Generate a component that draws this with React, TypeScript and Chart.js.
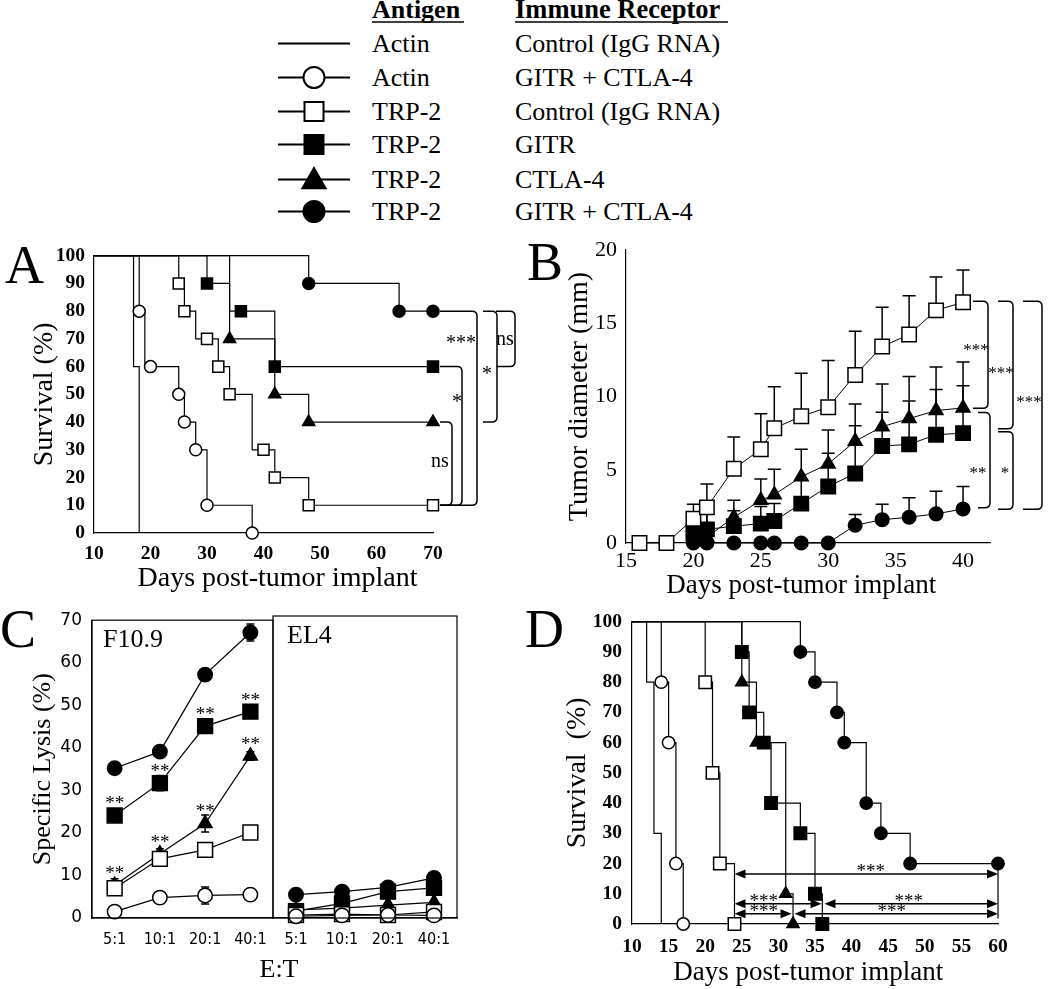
import React, { useEffect, useRef } from "react";
import { Chart, registerables } from "chart.js";

Chart.register(...registerables);

const SERIF = "'Liberation Serif', 'Times New Roman', serif";
const SANS = "'DejaVu Sans', sans-serif";
const SANS_C = "'DejaVu Sans Condensed', 'DejaVu Sans', sans-serif";
Chart.defaults.font.family = SERIF;

// ---------------- Legend ----------------
const legendAntigen = ["Actin", "Actin", "TRP-2", "TRP-2", "TRP-2", "TRP-2"];
const legendReceptor = [
  "Control (IgG RNA)",
  "GITR + CTLA-4",
  "Control (IgG RNA)",
  "GITR",
  "CTLA-4",
  "GITR + CTLA-4",
];

// group index: 0 Actin/Control, 1 Actin/GITR+CTLA-4, 2 TRP-2/Control,
// 3 TRP-2/GITR, 4 TRP-2/CTLA-4, 5 TRP-2/GITR+CTLA-4

// ---------------- Panel A (survival) ----------------
const aXTicks = [10, 20, 30, 40, 50, 60, 70];
const aYTicks = [0, 10, 20, 30, 40, 50, 60, 70, 80, 90, 100];
const aStepX = [
  [10, 17, 18],
  [10, 18, 19, 25, 26, 28, 30, 38],
  [10, 25, 26, 28, 32, 34, 38, 42, 48, 70],
  [10, 30, 34, 42, 70],
  [10, 34, 42, 48, 70],
  [10, 48, 64, 70],
];
const aStepY = [
  [100, 60, 0],
  [100, 80, 60, 50, 40, 30, 10, 0],
  [100, 90, 80, 70, 60, 50, 30, 20, 10, 10],
  [100, 90, 80, 60, 60],
  [100, 70, 50, 40, 40],
  [100, 90, 80, 80],
];
const aMarkX = [
  [],
  [18, 20, 25, 26, 28, 30, 38],
  [25, 26, 30, 32, 34, 40, 42, 48, 70],
  [30, 36, 42, 70],
  [34, 42, 48, 70],
  [48, 64, 70],
];
const aMarkY = [
  [],
  [80, 60, 50, 40, 30, 10, 0],
  [90, 80, 70, 60, 50, 30, 20, 10, 10],
  [90, 80, 60, 60],
  [70, 50, 40, 40],
  [90, 80, 80],
];

// ---------------- Panel B (tumor diameter) ----------------
const bXTicks = [15, 20, 25, 30, 35, 40];
const bYTicks = [0, 5, 10, 15, 20];
const bDaysCtrl = [16, 18, 20, 21, 23, 25, 26, 28, 30, 32, 34, 36, 38, 40];
const bDays = [20, 21, 23, 25, 26, 28, 30, 32, 34, 36, 38, 40];
const bCtrl = [0, 0, 1.65, 2.43, 5.07, 6.4, 7.83, 8.65, 9.27, 11.47, 13.41, 14.23, 15.88, 16.43];
const bCtrlErr = [0, 0, 1.0, 1.6, 2.17, 2.42, 2.83, 2.93, 3.19, 2.98, 2.69, 2.65, 2.28, 2.21];
const bCtla = [0.3, 0.4, 1.76, 2.91, 3.3, 4.52, 5.4, 6.95, 7.94, 8.49, 9.04, 9.22];
const bCtlaErr = [1.8, 2.2, 1.15, 1.46, 1.73, 1.88, 2.32, 2.54, 2.91, 2.87, 2.98, 3.13];
const bGitr = [0.66, 0.93, 1.15, 1.32, 1.5, 2.69, 3.86, 4.74, 6.62, 6.73, 7.39, 7.5];
const bGitrErr = [1.14, 1.27, 1.05, 1.18, 1.2, 1.61, 2.27, 3.26, 2.31, 2.97, 3.09, 3.24];
const bBoth = [0, 0, 0, 0, 0, 0, 0, 1.21, 1.59, 1.76, 1.99, 2.32];
const bBothErr = [0, 0, 0, 0, 0, 0, 0, 0.73, 1.06, 1.33, 1.54, 1.54];

// ---------------- Panel C (specific lysis) ----------------
const cLabels = ["5:1", "10:1", "20:1", "40:1"];
const cYTicks = [0, 10, 20, 30, 40, 50, 60, 70];
const cF10ActinBoth = [1.5, 4.8, 5.3, 5.5];
const cF10ActinBothErr = [0.3, 0.3, 2.0, 0.3];
const cF10Ctrl = [7.0, 13.9, 16.0, 20.1];
const cF10CtrlErr = [0.5, 0.5, 0.5, 0.5];
const cF10Gitr = [24.1, 31.7, 45.1, 48.5];
const cF10GitrErr = [0.8, 1.8, 0.8, 0.8];
const cF10Ctla = [7.7, 15.1, 22.2, 38.1];
const cF10CtlaErr = [1.5, 1.2, 2.0, 1.0];
const cF10Both = [35.2, 39.1, 57.2, 67.1];
const cF10BothErr = [0.8, 0.8, 0.8, 2.0];
const cEL4ActinBoth = [0.4, 0.6, 0.7, 0.6];
const cEL4Ctrl = [0.7, 0.9, 0.7, 1.4];
const cEL4Gitr = [1.6, 3.4, 6.1, 7.0];
const cEL4Ctla = [1.9, 2.3, 3.0, 3.6];
const cEL4Both = [5.4, 6.1, 7.1, 9.3];

// ---------------- Panel D (survival) ----------------
const dXTicks = [10, 15, 20, 25, 30, 35, 40, 45, 50, 55, 60];
const dYTicks = [0, 10, 20, 30, 40, 50, 60, 70, 80, 90, 100];
const dStepX = [
  [10, 12, 13, 14],
  [10, 14, 15, 16, 17],
  [10, 20, 21, 22, 24],
  [10, 25, 26, 28, 29, 33, 35, 36],
  [10, 25, 27, 31, 32],
  [10, 33, 35, 38, 39, 42, 44, 48, 60],
];
const dStepY = [
  [100, 80, 30, 0],
  [100, 80, 60, 20, 0],
  [100, 80, 50, 20, 0],
  [100, 90, 70, 60, 40, 30, 10, 0],
  [100, 80, 60, 10, 0],
  [100, 90, 80, 70, 60, 40, 30, 20, 20],
];
const dMarkX = [
  [],
  [14, 15, 16, 17],
  [20, 21, 22, 24],
  [25, 26, 28, 29, 33, 35, 36],
  [25, 27, 31, 32],
  [33, 35, 38, 39, 42, 44, 48, 60],
];
const dMarkY = [
  [],
  [80, 60, 20, 0],
  [80, 50, 20, 0],
  [90, 70, 60, 40, 30, 10, 0],
  [80, 60, 10, 0],
  [90, 80, 70, 60, 40, 30, 20, 20],
];

// ---------------- styles ----------------
const GROUP_MARK: any[] = [
  null,
  { shape: "circle", filled: false },
  { shape: "rect", filled: false },
  { shape: "rect", filled: true },
  { shape: "triangle", filled: true },
  { shape: "circle", filled: true },
];

function pointOpts(g: number, r: any) {
  const m = GROUP_MARK[g];
  return {
    pointStyle: m.shape,
    pointRadius: r[m.shape],
    pointHoverRadius: r[m.shape],
    pointBackgroundColor: m.filled ? "#000" : "#fff",
    pointBorderColor: "#000",
    pointBorderWidth: 1.5,
  };
}

function survivalDatasets(stepX: number[][], stepY: number[][], markX: number[][], markY: number[][], r: any) {
  const out: any[] = [];
  stepX.forEach((xs, g) => {
    out.push({
      data: xs.map((x, i) => ({ x, y: stepY[g][i] })),
      stepped: "before",
      borderColor: "#000",
      borderWidth: 1.2,
      pointRadius: 0,
      pointHoverRadius: 0,
      fill: false,
      clip: false,
      order: 2,
    });
    if (GROUP_MARK[g] && markX[g].length) {
      out.push({
        data: markX[g].map((x, i) => ({ x, y: markY[g][i] })),
        showLine: false,
        clip: false,
        order: 1,
        ...pointOpts(g, r),
      });
    }
  });
  return out;
}

function axis(o: any) {
  const s: any = {
    type: o.type || "linear",
    display: o.display === undefined ? true : o.display,
    offset: o.type === "category",
    grid: { display: false, drawTicks: false },
    border: { display: true, color: "#000", width: 1.2 },
    ticks: {
      font: o.font,
      color: "#000",
      padding: o.pad,
      autoSkip: false,
      maxRotation: 0,
      minRotation: 0,
      includeBounds: false,
    },
    afterFit: (sc: any) => {
      if (o.horizontal) sc.height = o.size;
      else sc.width = o.size;
    },
    title: o.title
      ? { display: true, text: o.title, font: o.titleFont, color: "#000", padding: o.titlePad }
      : { display: false },
  };
  if (o.min !== undefined) s.min = o.min;
  if (o.max !== undefined) s.max = o.max;
  if (o.tickValues) {
    s.afterBuildTicks = (sc: any) => {
      sc.ticks = o.tickValues.map((v: number) => ({ value: v }));
    };
  }
  return s;
}

function baseOptions(padding: any, scales: any) {
  return {
    animation: false,
    responsive: false,
    devicePixelRatio: 1,
    events: [],
    layout: { padding },
    plugins: { legend: { display: false }, tooltip: { enabled: false }, title: { display: false } },
    scales,
  };
}

// ---------------- drawing helpers ----------------
function drawLetter(ctx: any, t: string, x: number, y: number) {
  ctx.save();
  ctx.fillStyle = "#000";
  ctx.font = `54px ${SERIF}`;
  ctx.textAlign = "left";
  ctx.textBaseline = "alphabetic";
  ctx.fillText(t, x, y);
  ctx.restore();
}

function drawLabel(ctx: any, t: string, x: number, yc: number, size: number, family = SERIF) {
  ctx.save();
  ctx.fillStyle = "#000";
  ctx.font = `${size}px ${family}`;
  ctx.textAlign = "center";
  ctx.textBaseline = "alphabetic";
  const k = t.indexOf("*") >= 0 ? 0.47 : 0.23;
  ctx.fillText(t, x, yc + k * size);
  ctx.restore();
}

function drawBracket(ctx: any, x0: number, xv: number, yTop: number, yBot: number) {
  const r = 5;
  ctx.save();
  ctx.strokeStyle = "#000";
  ctx.lineWidth = 1.5;
  ctx.beginPath();
  ctx.moveTo(x0, yTop);
  ctx.lineTo(xv - r, yTop);
  ctx.quadraticCurveTo(xv, yTop, xv, yTop + r);
  ctx.lineTo(xv, yBot - r);
  ctx.quadraticCurveTo(xv, yBot, xv - r, yBot);
  ctx.lineTo(x0, yBot);
  ctx.stroke();
  ctx.restore();
}

function drawDoubleArrow(ctx: any, x1: number, x2: number, y: number) {
  const hl = 11;
  const hw = 4.5;
  ctx.save();
  ctx.strokeStyle = "#000";
  ctx.fillStyle = "#000";
  ctx.lineWidth = 1.5;
  ctx.beginPath();
  ctx.moveTo(x1 + 4, y);
  ctx.lineTo(x2 - 4, y);
  ctx.stroke();
  ctx.beginPath();
  ctx.moveTo(x1, y);
  ctx.lineTo(x1 + hl, y - hw);
  ctx.lineTo(x1 + hl, y + hw);
  ctx.closePath();
  ctx.fill();
  ctx.beginPath();
  ctx.moveTo(x2, y);
  ctx.lineTo(x2 - hl, y - hw);
  ctx.lineTo(x2 - hl, y + hw);
  ctx.closePath();
  ctx.fill();
  ctx.restore();
}

const errorBarPlugin = {
  id: "errorBars",
  beforeDatasetsDraw(chart: any) {
    const { ctx } = chart;
    const ys = chart.scales.y;
    chart.data.datasets.forEach((ds: any, i: number) => {
      if (!ds.errorBars) return;
      const meta = chart.getDatasetMeta(i);
      const cap = ds.errorCap || 6;
      ctx.save();
      ctx.strokeStyle = "#000";
      ctx.lineWidth = 1.5;
      meta.data.forEach((pt: any, j: number) => {
        const e = ds.errorBars[j];
        if (!e) return;
        const d = ds.data[j];
        const v = typeof d === "number" ? d : d.y;
        const yTop = ys.getPixelForValue(v + e);
        const yBot = ds.errorMode === "both" ? ys.getPixelForValue(v - e) : pt.y;
        ctx.beginPath();
        ctx.moveTo(pt.x, yBot);
        ctx.lineTo(pt.x, yTop);
        ctx.moveTo(pt.x - cap, yTop);
        ctx.lineTo(pt.x + cap, yTop);
        if (ds.errorMode === "both") {
          ctx.moveTo(pt.x - cap, yBot);
          ctx.lineTo(pt.x + cap, yBot);
        }
        ctx.stroke();
      });
      ctx.restore();
    });
  },
};

// ---------------- panel plugins ----------------
const panelAPlugin = {
  id: "panelA",
  afterDraw(chart: any) {
    const { ctx, chartArea: ca, scales } = chart;
    const y = scales.y;
    drawLetter(ctx, "A", 5, 48);
    const R = ca.right;
    const br = [
      { top: 80, bot: 10, xv: 44, x0: 7, t: "***", lx: 28, ly: 69.6, s: 20 },
      { top: 80, bot: 60, xv: 82, x0: 63, t: "ns", lx: 72, ly: 69.6, s: 20 },
      { top: 80, bot: 40, xv: 64, x0: 50, t: "*", lx: 54, ly: 58.4, s: 20 },
      { top: 60, bot: 10, xv: 29, x0: 7, t: "*", lx: 24, ly: 48.6, s: 20 },
      { top: 40, bot: 10, xv: 19, x0: 7, t: "ns", lx: 7, ly: 25.5, s: 20 },
    ];
    br.forEach((b) => {
      drawBracket(ctx, R + b.x0, R + b.xv, y.getPixelForValue(b.top), y.getPixelForValue(b.bot));
      drawLabel(ctx, b.t, R + b.lx, y.getPixelForValue(b.ly), b.s);
    });
  },
};

const panelBPlugin = {
  id: "panelB",
  afterDraw(chart: any) {
    const { ctx, chartArea: ca, scales } = chart;
    const y = scales.y;
    drawLetter(ctx, "B", 2, 50);
    const R = ca.right;
    const br = [
      { top: 16.5, bot: 9.2, xv: -2, x0: -17, t: "***", lx: -14, ly: 13.4 },
      { top: 16.5, bot: 7.8, xv: 23, x0: 8, t: "***", lx: 11, ly: 11.8 },
      { top: 16.5, bot: 2.3, xv: 52, x0: 33, t: "***", lx: 39, ly: 9.8 },
      { top: 8.9, bot: 2.4, xv: 0, x0: -12, t: "**", lx: -12, ly: 5.0 },
      { top: 7.6, bot: 2.3, xv: 23, x0: 8, t: "*", lx: 15, ly: 5.0 },
    ];
    br.forEach((b) => {
      drawBracket(ctx, R + b.x0, R + b.xv, y.getPixelForValue(b.top), y.getPixelForValue(b.bot));
      drawLabel(ctx, b.t, R + b.lx, y.getPixelForValue(b.ly), 17);
    });
  },
};

function boxPlugin(id: string, text: string, extra?: (chart: any) => void) {
  return {
    id,
    afterDraw(chart: any) {
      const { ctx, chartArea: ca } = chart;
      ctx.save();
      ctx.strokeStyle = "#000";
      ctx.lineWidth = 1.2;
      ctx.strokeRect(ca.left, ca.top, ca.right - ca.left, ca.bottom - ca.top);
      ctx.fillStyle = "#000";
      ctx.font = `26px ${SERIF}`;
      ctx.textAlign = "left";
      ctx.textBaseline = "alphabetic";
      ctx.fillText(text, ca.left + (id === "cLeft" ? 11 : 14), ca.top + 27);
      ctx.restore();
      if (extra) extra(chart);
    },
  };
}

const cLeftPlugin = boxPlugin("cLeft", "F10.9", (chart: any) => {
  const { ctx } = chart;
  drawLetter(ctx, "C", 0, 47);
  ctx.save();
  ctx.fillStyle = "#000";
  ctx.font = `26px ${SERIF}`;
  ctx.textAlign = "center";
  ctx.textBaseline = "alphabetic";
  ctx.fillText("E:T", 279, 377);
  ctx.restore();
  chart.data.datasets.forEach((ds: any, i: number) => {
    if (!ds.sigStars) return;
    chart.getDatasetMeta(i).data.forEach((pt: any) => {
      drawLabel(ctx, "**", pt.x, pt.y - 15, 19);
    });
  });
});

const cRightPlugin = boxPlugin("cRight", "EL4");

const panelDPlugin = {
  id: "panelD",
  afterDraw(chart: any) {
    const { ctx, scales } = chart;
    const x = scales.x;
    const y = scales.y;
    drawLetter(ctx, "D", 0, 47);
    const arrows = [
      { v: 16.5, from: 24, to: 60, lx: 42.6, ly: 18.6 },
      { v: 6.7, from: 24, to: 35.9, lx: 28, ly: 8.6 },
      { v: 6.7, from: 36.3, to: 60, lx: 47.8, ly: 8.6 },
      { v: 3.4, from: 24, to: 31.8, lx: 28, ly: 5.2 },
      { v: 3.4, from: 32.2, to: 60, lx: 45.5, ly: 5.2 },
    ];
    ctx.save();
    ctx.strokeStyle = "#000";
    ctx.lineWidth = 1.2;
    ctx.beginPath();
    ctx.moveTo(x.getPixelForValue(60), y.getPixelForValue(20));
    ctx.lineTo(x.getPixelForValue(60), y.getPixelForValue(1.8));
    ctx.stroke();
    ctx.restore();
    arrows.forEach((a) => {
      drawDoubleArrow(ctx, x.getPixelForValue(a.from), x.getPixelForValue(a.to), y.getPixelForValue(a.v));
      drawLabel(ctx, "***", x.getPixelForValue(a.lx), y.getPixelForValue(a.ly), 19);
    });
  },
};

// ---------------- configs ----------------
const boldTick = { family: SERIF, size: 19.5, weight: "bold" };

function configA() {
  return {
    type: "line",
    data: { datasets: survivalDatasets(aStepX, aStepY, aMarkX, aMarkY, { circle: 6, rect: 7.8, triangle: 7 }) },
    options: baseOptions({ left: 0, top: 12, right: 92, bottom: 0 }, {
      x: axis({
        min: 10, max: 70, tickValues: aXTicks, size: 62, horizontal: true, font: boldTick, pad: 9,
        title: "    Days post-tumor implant", titleFont: { family: SERIF, size: 28 }, titlePad: { top: 0, bottom: 0 },
      }),
      y: axis({
        min: 0, max: 100, tickValues: aYTicks, size: 94, horizontal: false, font: boldTick, pad: 9,
        title: "Survival (%)", titleFont: { family: SERIF, size: 28 }, titlePad: { top: 28, bottom: 0 },
      }),
    }),
    plugins: [panelAPlugin],
  };
}

function configB() {
  const r = { circle: 6.8, rect: 10.2, triangle: 8 };
  const series = [
    { g: 2, x: bDaysCtrl, y: bCtrl, err: bCtrlErr },
    { g: 4, x: bDays, y: bCtla, err: bCtlaErr },
    { g: 3, x: bDays, y: bGitr, err: bGitrErr },
    { g: 5, x: bDays, y: bBoth, err: bBothErr },
  ];
  const datasets = series.map((s) => ({
    data: s.x.map((x, i) => ({ x, y: s.y[i] })),
    borderColor: "#000",
    borderWidth: 1,
    fill: false,
    clip: false,
    errorBars: s.err,
    errorMode: "up",
    errorCap: 6.5,
    ...pointOpts(s.g, r),
  }));
  return {
    type: "line",
    data: { datasets },
    options: baseOptions({ left: 0, top: 11, right: 60, bottom: 0 }, {
      x: axis({
        min: 15, max: 42, tickValues: bXTicks, size: 62, horizontal: true,
        font: { family: SERIF, size: 22 }, pad: 5,
        title: "Days post-tumor implant  ", titleFont: { family: SERIF, size: 27 }, titlePad: { top: 0, bottom: 3 },
      }),
      y: axis({
        min: 0, max: 20, tickValues: bYTicks, size: 101, horizontal: false,
        font: { family: SERIF, size: 22, lineHeight: 1 }, pad: 9,
        title: "Tumor diameter (mm)", titleFont: { family: SERIF, size: 28 }, titlePad: { top: 38, bottom: 0 },
      }),
    }),
    plugins: [errorBarPlugin, panelBPlugin],
  };
}

function cDatasets(rows: any[], r: any) {
  return rows.map((s) => ({
    data: s.v,
    borderColor: "#000",
    borderWidth: 1.2,
    fill: false,
    clip: false,
    errorBars: s.e,
    errorMode: "both",
    errorCap: 4,
    sigStars: !!s.sig,
    ...pointOpts(s.g, r),
  }));
}

const cTickFont = { family: SANS_C, size: 16 };

function configCLeft() {
  const r = { circle: 7.2, rect: 10.5, triangle: 8 };
  const rows = [
    { g: 1, v: cF10ActinBoth, e: cF10ActinBothErr },
    { g: 2, v: cF10Ctrl, e: cF10CtrlErr },
    { g: 4, v: cF10Ctla, e: cF10CtlaErr, sig: true },
    { g: 3, v: cF10Gitr, e: cF10GitrErr, sig: true },
    { g: 5, v: cF10Both, e: cF10BothErr },
  ];
  return {
    type: "line",
    data: { labels: cLabels, datasets: cDatasets(rows, r) },
    options: baseOptions({ left: 0, top: 16, right: 27, bottom: 0 }, {
      x: axis({ type: "category", size: 71, horizontal: true, font: cTickFont, pad: 12 }),
      y: axis({
        min: 0, max: 70, tickValues: cYTicks, size: 92, horizontal: false, font: { family: SANS, size: 17 }, pad: 10,
        title: "Specific Lysis (%)", titleFont: { family: SERIF, size: 26 }, titlePad: { top: 28, bottom: 0 },
      }),
    }),
    plugins: [errorBarPlugin, cLeftPlugin],
  };
}

function configCRight() {
  const r = { circle: 7.2, rect: 10.5, triangle: 8 };
  const rows = [
    { g: 1, v: cEL4ActinBoth },
    { g: 2, v: cEL4Ctrl },
    { g: 4, v: cEL4Ctla },
    { g: 3, v: cEL4Gitr },
    { g: 5, v: cEL4Both },
  ];
  return {
    type: "line",
    data: { labels: cLabels, datasets: cDatasets(rows, r) },
    options: baseOptions({ left: 13, top: 16, right: 43, bottom: 0 }, {
      x: axis({ type: "category", size: 71, horizontal: true, font: cTickFont, pad: 12 }),
      y: axis({ min: 0, max: 70, size: 0, horizontal: false, display: false, font: { family: SANS, size: 16 }, pad: 10 }),
    }),
    plugins: [cRightPlugin],
  };
}

function configD() {
  return {
    type: "line",
    data: { datasets: survivalDatasets(dStepX, dStepY, dMarkX, dMarkY, { circle: 6.2, rect: 8.8, triangle: 7 }) },
    options: baseOptions({ left: 0, top: 14, right: 52, bottom: 0 }, {
      x: axis({
        min: 10, max: 60, tickValues: dXTicks, size: 65, horizontal: true, font: boldTick, pad: 11,
        title: "Days post-tumor implant  ", titleFont: { family: SERIF, size: 27 }, titlePad: { top: 0, bottom: 0 },
      }),
      y: axis({
        min: 0, max: 100, tickValues: dYTicks, size: 107, horizontal: false, font: boldTick, pad: 10,
        title: "Survival  (%)", titleFont: { family: SERIF, size: 28 }, titlePad: { top: 36, bottom: 0 },
      }),
    }),
    plugins: [panelDPlugin],
  };
}

// ---------------- components ----------------
function ChartCanvas(props: { left: number; top: number; width: number; height: number; make: () => any }) {
  const ref = useRef<HTMLCanvasElement | null>(null);
  useEffect(() => {
    const chart = new Chart(ref.current as HTMLCanvasElement, props.make());
    return () => chart.destroy();
  }, []);
  return (
    <canvas
      ref={ref}
      width={props.width}
      height={props.height}
      style={{ position: "absolute", left: props.left, top: props.top, width: props.width, height: props.height }}
    />
  );
}

function LegendSymbol(props: { g: number; y: number }) {
  const m = GROUP_MARK[props.g];
  const cx = 314;
  const y = props.y;
  const fill = m && m.filled ? "#000" : "#fff";
  return (
    <g>
      <line x1={278} x2={350} y1={y} y2={y} stroke="#000" strokeWidth={1.8} />
      {m && m.shape === "circle" && <circle cx={cx} cy={y} r={10.5} fill={fill} stroke="#000" strokeWidth={2} />}
      {m && m.shape === "rect" && (
        <rect x={cx - 9.5} y={y - 9.5} width={19} height={19} fill={fill} stroke="#000" strokeWidth={2} />
      )}
      {m && m.shape === "triangle" && (
        <polygon points={`${cx},${y - 12} ${cx + 12},${y + 9} ${cx - 12},${y + 9}`} fill={fill} stroke="#000" strokeWidth={1.5} />
      )}
    </g>
  );
}

function Legend() {
  const baselines = [52, 86, 120, 153, 188, 220];
  return (
    <svg width={1050} height={232} style={{ position: "absolute", left: 0, top: 0 }}>
      <text x={372} y={18} fontFamily={SERIF} fontSize={26} fontWeight="bold" fill="#000">Antigen</text>
      <line x1={372} x2={464} y1={22} y2={22} stroke="#000" strokeWidth={1.6} />
      <text x={515} y={18} fontFamily={SERIF} fontSize={26.5} fontWeight="bold" fill="#000">Immune Receptor</text>
      <line x1={515} x2={728} y1={22} y2={22} stroke="#000" strokeWidth={1.6} />
      {legendAntigen.map((a, i) => (
        <g key={i}>
          <LegendSymbol g={i} y={baselines[i] - 8.5} />
          <text x={372} y={baselines[i]} fontFamily={SERIF} fontSize={26} fill="#000">{a}</text>
          <text x={515} y={baselines[i]} fontFamily={SERIF} fontSize={26} fill="#000">{legendReceptor[i]}</text>
        </g>
      ))}
    </svg>
  );
}

export default function App() {
  useEffect(() => {
    document.body.style.margin = "0";
  }, []);
  return (
    <div style={{ position: "absolute", left: 0, top: 0, width: 1050, height: 989, background: "#fff", overflow: "hidden" }}>
      <Legend />
      <ChartCanvas left={0} top={235} width={525} height={360} make={configA} />
      <ChartCanvas left={525} top={230} width={525} height={375} make={configB} />
      <ChartCanvas left={0} top={600} width={300} height={389} make={configCLeft} />
      <ChartCanvas left={260} top={600} width={240} height={389} make={configCRight} />
      <ChartCanvas left={525} top={600} width={525} height={389} make={configD} />
    </div>
  );
}
